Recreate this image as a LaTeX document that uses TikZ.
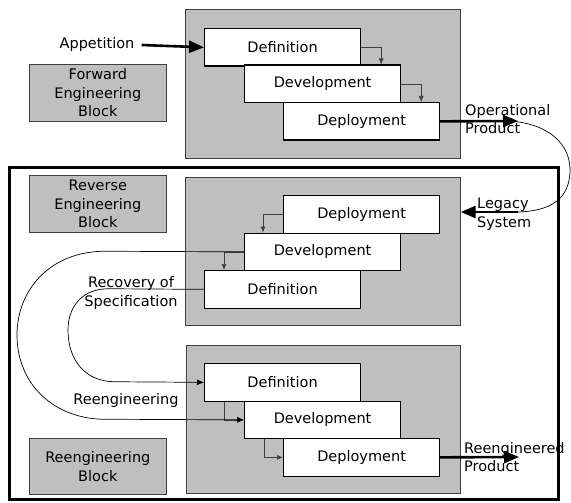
\documentclass[tikz,border=0pt]{standalone}
\usepackage{fontspec}
\setmainfont{DejaVu Sans}
\usetikzlibrary{arrows.meta,calc}
\begin{document}
\begin{tikzpicture}[x=1pt,y=-1pt,
  every node/.style={font=\fontsize{14.5}{18.5}\selectfont},
  blk/.style={draw=black!75,line width=0.7pt,fill=black!25,inner sep=0pt,anchor=north west},
  lblbox/.style={blk,minimum width=137pt,minimum height=57pt,align=center},
  stagebox/.style={draw,line width=1.2pt,fill=white,inner sep=0pt,anchor=north west,minimum width=156pt,minimum height=37.5pt},
  txt/.style={inner sep=1pt,align=left},
  bigarrow/.style={line width=2.6pt,-{Triangle[length=15pt 0 0,width=12pt 0 0]}},
  smallarrow/.style={black!75,line width=0.6pt,-{Latex[length=6pt 0 0,width=5pt 0 0]}},
  flow/.style={line width=0.7pt,-{Latex[length=7pt 0 0,width=6pt 0 0]}},
  flowline/.style={line width=0.7pt}
]
\useasboundingbox (0,0) rectangle (571,503);
\fill[white] (0,0) rectangle (571,503);

% blocks
\node[blk,minimum width=275pt,minimum height=149pt] (fblk) at (185,9) {};
\node[blk,minimum width=275pt,minimum height=148pt] (rblk) at (185,177) {};
\node[blk,minimum width=274pt,minimum height=148pt] (eblk) at (186,345) {};

% label boxes
\node[lblbox] (flbl) at (29,64) {Forward\\Engineering\\Block};
\node[lblbox] (rlbl) at (29,175) {Reverse\\Engineering\\Block};
\node[lblbox,minimum height=56pt] (elbl) at (29,438) {Reengineering\\Block};

% forward stages
\node[stagebox] (d1) at (204,28) {Definition};
\node[stagebox] (v1) at (244,64.5) {Development};
\node[stagebox] (p1) at (283,102) {Deployment};

% reverse stages
\node[stagebox] (p2) at (283,195) {Deployment};
\node[stagebox] (v2) at (244,232.5) {Development};
\node[stagebox] (d2) at (204,270) {Definition};

% reengineering stages
\node[stagebox] (d3) at (204,363) {Definition};
\node[stagebox] (v3) at (244,400.5) {Development};
\node[stagebox] (p3) at (283,438) {Deployment};

% small internal arrows
\draw[smallarrow] (d1.east) -| ([xshift=-20pt]v1.north east);
\draw[smallarrow] (v1.east) -| ([xshift=-19pt]p1.north east);
\draw[smallarrow] (p2.west) -| ([xshift=19pt]v2.north west);
\draw[smallarrow] (v2.west) -| ([xshift=20pt]d2.north west);
\draw[smallarrow] ([xshift=20pt]d3.south west) |- (v3.west);
\draw[smallarrow] ([xshift=20pt]v3.south west) |- (p3.west);

% texts
\node[txt] (app) at (97,45) {Appetition};
\node[txt,anchor=west] (oprod) at (464,119) {Operational\\Product};
\node[txt,anchor=west] (leg) at (476,214) {Legacy\\System};
\node[txt,align=center] (rec) at (131,293) {Recovery of\\Specification};
\node[txt] (reeng) at (126,400) {Reengineering};
\node[txt,anchor=west] (rprod) at (463,457) {Reengineered\\Product};

\coordinate (opend) at (518,121);
\coordinate (legstart) at (518,212);
\coordinate (rpend) at (519,457);

% thick arrows
\draw[bigarrow] ([xshift=6pt]app.east) -- (d1.west);
\draw[bigarrow] (p1.east) -- (opend);
\draw[bigarrow] (legstart) -- (legstart -| rblk.east);
\draw[bigarrow] (p3.east) -- (rprod.west -| rpend);

% right curve from operational product to legacy system
\draw[flowline] ([xshift=-8pt]opend) .. controls (550,124) and (571,145) .. (570,172)
  .. controls (569,198) and (552,211) .. (legstart);

% reengineering flow curves
\draw[flow] (v2.west) -- (105,251.25) .. controls (50,251.25) and (17,290) .. (17,335)
  .. controls (17,385) and (55,419.25) .. (105,419.25) -- (v3.west);
\draw[flow] (d2.west) -- (108,288.75) .. controls (84,288.75) and (68,305) .. (68,330)
  .. controls (68,360) and (85,381.75) .. (115,381.75) -- (d3.west);

% outer frame
\node[draw,line width=3pt,inner sep=0pt,anchor=north west,minimum width=549pt,minimum height=332pt] (frame) at (8,166) {};
\end{tikzpicture}
\end{document}
